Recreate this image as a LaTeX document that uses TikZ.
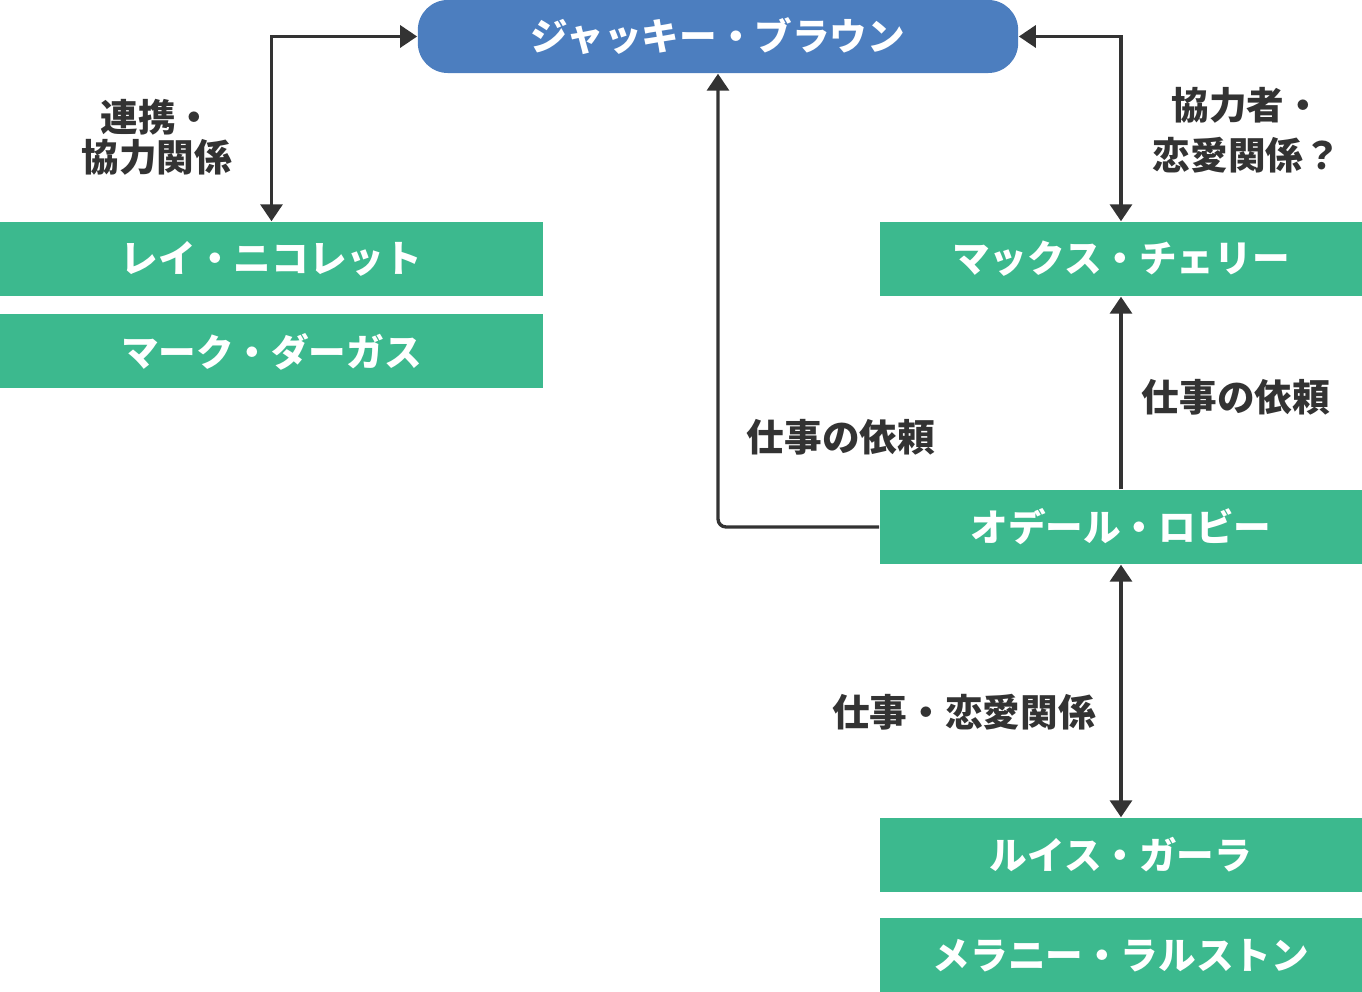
\documentclass[tikz,border=0pt]{standalone}
\usepackage{fontspec}
\setmainfont{Noto Sans CJK JP}
\usetikzlibrary{arrows.meta, positioning}
\definecolor{boss}{HTML}{4C7EBF}
\definecolor{member}{HTML}{3CB98E}
\definecolor{ink}{HTML}{333333}
\tikzset{
		person/.style={fill=member, text=white, inner sep=0pt,
			font=\bfseries\fontsize{10.7}{11.4}\selectfont,
			minimum width=4.82cm, minimum height=0.74cm},
		wide person/.style={person, minimum width=5.43cm},
		leader/.style={person, fill=boss, rounded corners=0.3cm,
			minimum width=6cm, minimum height=0.73cm},
		tie/.style={draw=ink, line width=0.95pt},
		tag/.style={text=ink, align=center,
			font=\bfseries\fontsize{10.7}{11.4}\selectfont}
	}

\begin{document}
\begin{tikzpicture}[>={Triangle[length=0.17cm,width=0.22cm]},x=0.01cm,y=-0.01cm]
				\useasboundingbox (0,0) rectangle (1362,992);

				\node[leader]      (jackie)  at (718,36.5)   {ジャッキー・ブラウン};
				\node[wide person] (ray)     at (271.5,259)  {レイ・ニコレット};
				\node[wide person] (mark)    [below=0.17cm of ray]    {マーク・ダーガス};
				\node[person]      (max)     at (1121,259)   {マックス・チェリー};
				\node[person]      (odile)   at (1121,527)   {オデール・ロビー};
				\node[person]      (luis)    at (1121,855)   {ルイス・ガーラ};
				\node[person]      (melanie) [below=0.25cm of luis]   {メラニー・ラルストン};

				\draw[tie, <->] (ray.north) |- (jackie.west);
				\draw[tie, <->] (max.north) |- (jackie.east);
				\draw[tie, ->, rounded corners=0.08cm] (odile.west) -| (jackie.south);
				\draw[tie, ->]  (odile.north) -- (max.south);
				\draw[tie, <->] (odile.south) -- (luis.north);

				\node[tag] (t1) at (157,137)  {連携・\\協力関係};
				\node[tag] (t2) at (1247,130) {協力者・\\[2.8pt]恋愛関係？};
				\node[tag] (t3) at (841,437)  {仕事の依頼};
				\node[tag] (t4) at (1236,397) {仕事の依頼};
				\node[tag] (t5) at (964,712)  {仕事・恋愛関係};
			\end{tikzpicture}
\end{document}
